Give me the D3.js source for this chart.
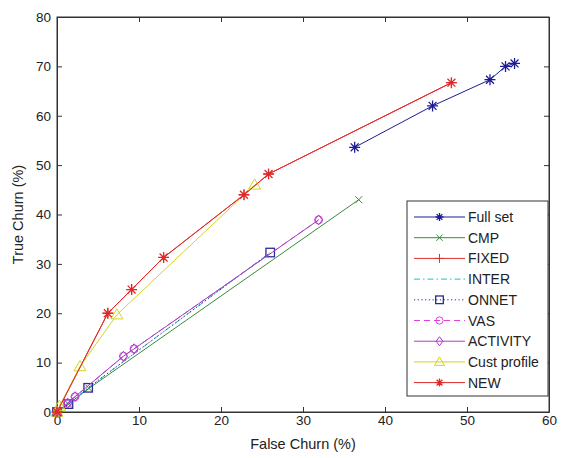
<!DOCTYPE html>
<html><head><meta charset="utf-8">
<script src="https://cdn.jsdelivr.net/npm/d3@7/dist/d3.min.js"></script>
<style>body{margin:0;background:#fff}svg{display:block}text{font-family:"Liberation Sans",Arial,sans-serif;fill:#222}</style>
</head><body><svg id="c" width="568" height="458"></svg>
<script>
const xTicks = [0,10,20,30,40,50,60];
const yTicks = [0,10,20,30,40,50,60,70,80];
const seriesNames = ["Full set","CMP","FIXED","INTER","ONNET","VAS","ACTIVITY","Cust profile","NEW"];
const fullSet = [[36.3,53.6],[45.8,62.0],[52.8,67.3],[54.7,70.0],[55.8,70.6]];
const cmp = [[0,0],[1.4,1.6],[3.9,4.8],[36.8,43.0]];
const fixed = [[0,0],[6.2,20.0],[9.1,24.8],[13.0,31.3],[22.8,44.0],[25.8,48.2],[48.1,66.7]];
const inter = [[0,0],[1.4,1.6],[3.8,4.9],[26.0,32.3]];
const onnet = [[0,0],[1.4,1.6],[3.8,4.9],[26.0,32.3]];
const vas = [[0,0],[1.3,1.8],[2.2,3.1],[8.1,11.3],[9.4,12.8],[31.9,38.9]];
const activity = [[0,0],[1.3,1.8],[2.2,3.1],[8.1,11.3],[9.4,12.8],[31.9,38.9]];
const custProfile = [[0,0],[0.3,1.2],[2.8,9.2],[7.3,19.7],[24.1,46.0]];
const newSet = [[0,0],[6.2,20.0],[9.1,24.8],[13.0,31.3],[22.8,44.0],[25.8,48.2],[48.1,66.7]];

const styles = [
 {c:"#1c1c96", dash:null, m:"star"},
 {c:"#3a8a3a", dash:null, m:"x"},
 {c:"#e03030", dash:null, m:"plus"},
 {c:"#20c0c8", dash:"6,3,1.5,3", m:null},
 {c:"#2a2a9a", dash:"1.2,2.5", m:"square"},
 {c:"#e040e0", dash:"6,4", m:"circle"},
 {c:"#a040c0", dash:null, m:"diamond"},
 {c:"#d4d420", dash:null, m:"triangle"},
 {c:"#e02828", dash:null, m:"star"}
];
const data = [fullSet,cmp,fixed,inter,onnet,vas,activity,custProfile,newSet];

const svg = d3.select("#c");
const L=57,R=549,T=17,B=412;
const x = d3.scaleLinear().domain([0,60]).range([L,R]);
const y = d3.scaleLinear().domain([0,80]).range([B,T]);

function marker(g, type, cx, cy, col, s){
  const p = d3.path();
  if(type==="star"){
    p.moveTo(cx-s,cy);p.lineTo(cx+s,cy);p.moveTo(cx,cy-s);p.lineTo(cx,cy+s);
    const d=s*0.72;p.moveTo(cx-d,cy-d);p.lineTo(cx+d,cy+d);p.moveTo(cx-d,cy+d);p.lineTo(cx+d,cy-d);
    g.append("path").attr("d",p.toString()).attr("stroke",col).attr("stroke-width",1.3).attr("fill","none");
  } else if(type==="plus"){
    p.moveTo(cx-s,cy);p.lineTo(cx+s,cy);p.moveTo(cx,cy-s);p.lineTo(cx,cy+s);
    g.append("path").attr("d",p.toString()).attr("stroke",col).attr("stroke-width",1).attr("fill","none");
  } else if(type==="x"){
    const d=s*0.7;p.moveTo(cx-d,cy-d);p.lineTo(cx+d,cy+d);p.moveTo(cx-d,cy+d);p.lineTo(cx+d,cy-d);
    g.append("path").attr("d",p.toString()).attr("stroke",col).attr("stroke-width",1).attr("fill","none");
  } else if(type==="square"){
    g.append("rect").attr("x",cx-s*0.85).attr("y",cy-s*0.85).attr("width",s*1.7).attr("height",s*1.7)
     .attr("stroke",col).attr("stroke-width",1.3).attr("fill","none");
  } else if(type==="circle"){
    g.append("circle").attr("cx",cx).attr("cy",cy).attr("r",s*0.8).attr("stroke",col).attr("stroke-width",1).attr("fill","none");
  } else if(type==="diamond"){
    p.moveTo(cx,cy-s);p.lineTo(cx+s*0.75,cy);p.lineTo(cx,cy+s);p.lineTo(cx-s*0.75,cy);p.closePath();
    g.append("path").attr("d",p.toString()).attr("stroke",col).attr("stroke-width",1).attr("fill","none");
  } else if(type==="triangle"){
    p.moveTo(cx,cy-s);p.lineTo(cx+s,cy+s*0.7);p.lineTo(cx-s,cy+s*0.7);p.closePath();
    g.append("path").attr("d",p.toString()).attr("stroke",col).attr("stroke-width",1).attr("fill","none");
  }
}

svg.append("rect").attr("x",L).attr("y",T).attr("width",R-L).attr("height",B-T).attr("fill","#fff").attr("stroke","#333").attr("stroke-width",1);

const xb = svg.append("g").attr("transform",`translate(0,${B})`).call(d3.axisBottom(x).tickValues(xTicks).tickSizeInner(-5).tickSizeOuter(0).tickPadding(3.5));
const xt = svg.append("g").attr("transform",`translate(0,${T})`).call(d3.axisTop(x).tickValues(xTicks).tickSizeInner(-5).tickSizeOuter(0).tickFormat(""));
const yl = svg.append("g").attr("transform",`translate(${L},0)`).call(d3.axisLeft(y).tickValues(yTicks).tickSizeInner(-5).tickSizeOuter(0).tickPadding(6));
const yr = svg.append("g").attr("transform",`translate(${R},0)`).call(d3.axisRight(y).tickValues(yTicks).tickSizeInner(-5).tickSizeOuter(0).tickFormat(""));
[xb,xt,yl,yr].forEach(g=>{g.select(".domain").attr("stroke","#333");g.selectAll(".tick line").attr("stroke","#333");
  g.selectAll("text").style("font-size","13.5px").style("fill","#222").style("font-family",'"Liberation Sans",Arial,sans-serif');});

svg.append("text").attr("x",(L+R)/2).attr("y",449).attr("text-anchor","middle").style("font-size","14.5px").text("False Churn (%)");
svg.append("text").attr("transform",`translate(23,${(T+B)/2}) rotate(-90)`).attr("text-anchor","middle").style("font-size","14.5px").text("True Churn (%)");

const line = d3.line().x(d=>x(d[0])).y(d=>y(d[1]));
const plot = svg.append("g");
data.forEach((ds,i)=>{
  const st=styles[i];
  const g=plot.append("g");
  g.append("path").attr("d",line(ds)).attr("fill","none").attr("stroke",st.c).attr("stroke-width",1)
   .attr("stroke-dasharray",st.dash);
  if(st.m) ds.forEach(d=>marker(g,st.m,x(d[0]),y(d[1]),st.c,st.m==="star"?5.5:(st.m==="triangle"?6:5)));
});

const lg = svg.append("g");
lg.append("rect").attr("x",407).attr("y",201).attr("width",141).attr("height",195).attr("fill","#fff").attr("stroke","#333");
seriesNames.forEach((n,i)=>{
  const yy=217+i*20.7, st=styles[i];
  lg.append("line").attr("x1",414).attr("x2",465).attr("y1",yy).attr("y2",yy).attr("stroke",st.c).attr("stroke-dasharray",st.dash);
  if(st.m) marker(lg,st.m,439.5,yy,st.c,st.m==="star"?4:(st.m==="triangle"?5:4.5));
  lg.append("text").attr("x",468).attr("y",yy+5).style("font-size","14px").text(n);
});
</script></body></html>
